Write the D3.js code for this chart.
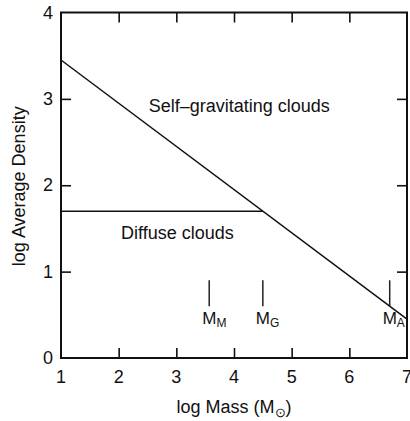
<!DOCTYPE html>
<html><head><meta charset="utf-8">
<script src="https://cdn.jsdelivr.net/npm/d3@7"></script>
<style>body{margin:0;background:#fff}svg{display:block}text{font-family:"Liberation Sans",Arial,sans-serif;fill:#111}</style>
</head><body><svg id="c" width="410" height="421"></svg>
<script>
const xTicks = [1, 2, 3, 4, 5, 6, 7];
const yTicks = [0, 1, 2, 3, 4];
const boundaryX = [1, 7];
const boundaryY = [3.45, 0.45];
const diffuseX = [1, 4.5];
const diffuseY = [1.7, 1.7];
const markerNames = ["M", "G", "A"];
const markerMass = [3.57, 4.5, 6.7];
const markerTop = 0.9, markerBottom = 0.6;
const regionLabels = ["Self\u2013gravitating clouds", "Diffuse clouds"];
const regionX = [4.09, 3.02];
const regionY = [2.85, 1.376];

const svg = d3.select("#c");
const L = 61, R = 407, T = 12.5, B = 358;
const x = d3.scaleLinear().domain([1, 7]).range([L, R]);
const y = d3.scaleLinear().domain([0, 4]).range([B, T]);
const FS = 18;

// inner ticks
const tl = 10;
const g = svg.append("g");
g.append("g").attr("transform", `translate(0,${B})`)
  .call(d3.axisTop(x).tickValues(xTicks.slice(1, -1)).tickSize(tl).tickFormat(""))
  .call(a => a.select(".domain").remove());
g.append("g").attr("transform", `translate(0,${T})`)
  .call(d3.axisBottom(x).tickValues(xTicks.slice(1, -1)).tickSize(tl).tickFormat(""))
  .call(a => a.select(".domain").remove());
g.append("g").attr("transform", `translate(${L},0)`)
  .call(d3.axisRight(y).tickValues(yTicks.slice(1, -1)).tickSize(tl).tickFormat(""))
  .call(a => a.select(".domain").remove());
g.append("g").attr("transform", `translate(${R},0)`)
  .call(d3.axisLeft(y).tickValues(yTicks.slice(1, -1)).tickSize(tl).tickFormat(""))
  .call(a => a.select(".domain").remove());
g.selectAll(".tick line").attr("stroke", "#111").attr("stroke-width", 1.6);

// frame
svg.append("rect").attr("x", L).attr("y", T).attr("width", R - L).attr("height", B - T)
  .attr("fill", "none").attr("stroke", "#111").attr("stroke-width", 2);

// tick labels
svg.append("g").selectAll("text").data(xTicks).join("text")
  .attr("x", d => x(d)).attr("y", B + 25).attr("text-anchor", "middle")
  .attr("font-size", FS).text(d => d);
svg.append("g").selectAll("text").data(yTicks).join("text")
  .attr("x", L - 8).attr("y", d => y(d) + 6).attr("text-anchor", "end")
  .attr("font-size", FS).text(d => d);

// axis titles
const xt = svg.append("text").attr("x", x(4)).attr("y", 413).attr("text-anchor", "middle").attr("font-size", FS);
xt.append("tspan").text("log Mass (M");
xt.append("tspan").attr("font-size", 13).attr("dy", 4).text("\u2299");
xt.append("tspan").attr("dy", -4).text(")");
svg.append("text").attr("transform", `translate(25,${(T + B) / 2 + 1}) rotate(-90)`)
  .attr("text-anchor", "middle").attr("font-size", FS).text("log Average Density");

// lines
const line = d3.line().x(d => x(d[0])).y(d => y(d[1]));
svg.append("path").datum(boundaryX.map((v, i) => [v, boundaryY[i]])).attr("d", line)
  .attr("fill", "none").attr("stroke", "#111").attr("stroke-width", 1.5);
svg.append("path").datum(diffuseX.map((v, i) => [v, diffuseY[i]])).attr("d", line)
  .attr("fill", "none").attr("stroke", "#111").attr("stroke-width", 1.5);

// markers
svg.append("g").selectAll("line").data(markerMass).join("line")
  .attr("x1", d => x(d)).attr("x2", d => x(d))
  .attr("y1", y(markerTop)).attr("y2", y(markerBottom))
  .attr("stroke", "#222").attr("stroke-width", 1.5);
const mt = svg.append("g").selectAll("text").data(markerMass).join("text")
  .attr("x", d => x(d) - 7).attr("y", 324).attr("font-size", 17);
mt.append("tspan").text("M");
mt.append("tspan").attr("font-size", 12).attr("dy", 3).text((d, i) => markerNames[i]);

// region labels
svg.append("g").selectAll("text").data(regionLabels).join("text")
  .attr("x", (d, i) => x(regionX[i])).attr("y", (d, i) => y(regionY[i]))
  .attr("text-anchor", "middle").attr("font-size", FS).text(d => d);
</script></body></html>
